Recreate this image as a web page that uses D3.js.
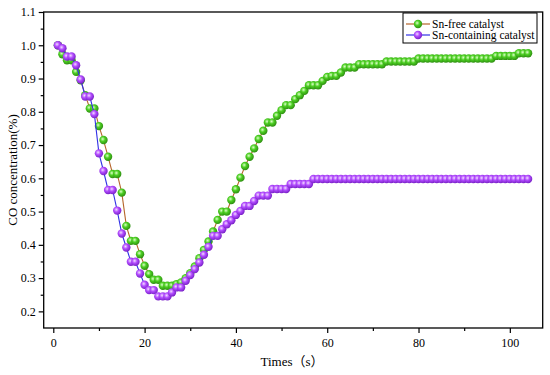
<!DOCTYPE html>
<html>
<head>
<meta charset="utf-8">
<script src="https://cdn.jsdelivr.net/npm/d3@7"></script>
<style>
  html, body { margin: 0; padding: 0; background: #fff; }
  svg { display: block; font-family: "Liberation Serif", "Times New Roman", "Noto Sans CJK SC", serif; }
</style>
</head>
<body>
<svg id="chart" width="550" height="375"></svg>
<script>
/* ---------- data ---------- */
const TIMES = d3.range(1, 105); // one reading per second, 1..104 s

const SN_FREE = [
  1.000, 0.973, 0.955, 0.955, 0.920, 0.895, 0.850, 0.810, 0.810, 0.757,
  0.715, 0.665, 0.613, 0.613, 0.557, 0.457, 0.412, 0.412, 0.372, 0.337,
  0.312, 0.295, 0.295, 0.277, 0.277, 0.277, 0.282, 0.287, 0.300, 0.315,
  0.335, 0.360, 0.385, 0.410, 0.440, 0.475, 0.500, 0.500, 0.535, 0.567,
  0.602, 0.637, 0.665, 0.690, 0.718, 0.743, 0.768, 0.768, 0.788, 0.805,
  0.820, 0.820, 0.838, 0.850, 0.863, 0.880, 0.880, 0.880, 0.893, 0.905,
  0.908, 0.908, 0.918, 0.933, 0.933, 0.933, 0.943, 0.943, 0.943, 0.943,
  0.943, 0.943, 0.951, 0.951, 0.951, 0.951, 0.951, 0.951, 0.951, 0.960,
  0.960, 0.960, 0.960, 0.960, 0.960, 0.960, 0.960, 0.960, 0.960, 0.960,
  0.960, 0.960, 0.960, 0.960, 0.960, 0.960, 0.968, 0.968, 0.968, 0.968,
  0.968, 0.976, 0.976, 0.976
];

const SN_CONTAINING = [
  1.000, 0.991, 0.966, 0.966, 0.940, 0.897, 0.846, 0.846, 0.793, 0.675,
  0.622, 0.565, 0.565, 0.503, 0.434, 0.392, 0.349, 0.349, 0.314, 0.280,
  0.264, 0.264, 0.245, 0.245, 0.245, 0.257, 0.272, 0.272, 0.292, 0.309,
  0.327, 0.347, 0.370, 0.394, 0.427, 0.427, 0.447, 0.462, 0.474, 0.490,
  0.502, 0.517, 0.517, 0.532, 0.548, 0.548, 0.548, 0.568, 0.568, 0.568,
  0.568, 0.583, 0.583, 0.583, 0.583, 0.583, 0.598, 0.598, 0.598, 0.598,
  0.598, 0.598, 0.598, 0.598, 0.598, 0.598, 0.598, 0.598, 0.598, 0.598,
  0.598, 0.598, 0.598, 0.598, 0.598, 0.598, 0.598, 0.598, 0.598, 0.598,
  0.598, 0.598, 0.598, 0.598, 0.598, 0.598, 0.598, 0.598, 0.598, 0.598,
  0.598, 0.598, 0.598, 0.598, 0.598, 0.598, 0.598, 0.598, 0.598, 0.598,
  0.598, 0.598, 0.598, 0.598
];

const X_MAJOR = [0, 20, 40, 60, 80, 100];
const X_MINOR = [10, 30, 50, 70, 90];
const Y_MAJOR = [0.2, 0.3, 0.4, 0.5, 0.6, 0.7, 0.8, 0.9, 1.0, 1.1];
const Y_MINOR = [0.25, 0.35, 0.45, 0.55, 0.65, 0.75, 0.85, 0.95, 1.05];

const SERIES = [
  { key: 'free', name: 'Sn-free catalyst',       values: SN_FREE,       line: '#b5652a', ball: '#4ccf22', hi: '#dcffc8', dark: '#2f8f12' },
  { key: 'sn',   name: 'Sn-containing catalyst', values: SN_CONTAINING, line: '#3030e6', ball: '#b34dff', hi: '#f3dcff', dark: '#7a22c8' },
];

/* ---------- layout ---------- */
const svg = d3.select('#chart');
const L = 43.7, R = 542.7, T = 12, B = 328;

const x = d3.scaleLinear().domain([-2.1, 107.2]).range([L, R]);
const y = d3.scaleLinear().domain([0.15, 1.1]).range([B, T]);

/* gradients for the ball markers */
const defs = svg.append('defs');
SERIES.forEach(s => {
  const g = defs.append('radialGradient').attr('id', 'ball-' + s.key)
    .attr('cx', '40%').attr('cy', '38%').attr('r', '62%');
  g.append('stop').attr('offset', '0%').attr('stop-color', s.hi);
  g.append('stop').attr('offset', '45%').attr('stop-color', s.ball);
  g.append('stop').attr('offset', '100%').attr('stop-color', s.dark);
});

/* ---------- axes ---------- */
const fmtY = d3.format('.1f');

svg.append('g').attr('transform', `translate(0,${B})`)
  .call(d3.axisBottom(x).tickValues(X_MAJOR).tickSize(5).tickPadding(5).tickFormat(d3.format('d')))
  .call(g => g.select('.domain').remove())
  .call(g => g.selectAll('.tick line').attr('stroke', '#000').attr('stroke-width', 1.2))
  .call(g => g.selectAll('.tick text').attr('font-size', '12px').attr('fill', '#000')
    .attr('font-family', '"Liberation Serif", "Times New Roman", serif'));

svg.append('g').attr('transform', `translate(0,${B})`)
  .call(d3.axisBottom(x).tickValues(X_MINOR).tickSize(3).tickFormat(''))
  .call(g => g.select('.domain').remove())
  .call(g => g.selectAll('.tick line').attr('stroke', '#000').attr('stroke-width', 1.2));

svg.append('g').attr('transform', `translate(${L},0)`)
  .call(d3.axisLeft(y).tickValues(Y_MAJOR).tickSize(5).tickPadding(3).tickFormat(fmtY))
  .call(g => g.select('.domain').remove())
  .call(g => g.selectAll('.tick line').attr('stroke', '#000').attr('stroke-width', 1.2))
  .call(g => g.selectAll('.tick text').attr('font-size', '12px').attr('fill', '#000')
    .attr('font-family', '"Liberation Serif", "Times New Roman", serif'));

svg.append('g').attr('transform', `translate(${L},0)`)
  .call(d3.axisLeft(y).tickValues(Y_MINOR).tickSize(3).tickFormat(''))
  .call(g => g.select('.domain').remove())
  .call(g => g.selectAll('.tick line').attr('stroke', '#000').attr('stroke-width', 1.2));

/* ---------- series ---------- */
const line = d3.line().x((d, i) => x(TIMES[i])).y(d => y(d));

SERIES.forEach(s => {
  const g = svg.append('g').attr('class', 'series-' + s.key);
  g.append('path').attr('d', line(s.values))
    .attr('fill', 'none').attr('stroke', s.line).attr('stroke-width', 1.1);
  g.selectAll('circle').data(s.values).join('circle')
    .attr('cx', (d, i) => x(TIMES[i])).attr('cy', d => y(d)).attr('r', 4.2)
    .attr('fill', `url(#ball-${s.key})`);
});

/* frame */
svg.append('rect').attr('x', L).attr('y', T).attr('width', R - L).attr('height', B - T)
  .attr('fill', 'none').attr('stroke', '#000').attr('stroke-width', 1.3);

/* ---------- axis titles ---------- */
svg.append('text').attr('x', 292).attr('y', 366).attr('text-anchor', 'middle')
  .attr('font-size', '13px').attr('fill', '#000').text('Times（s）');

svg.append('text').attr('transform', `translate(17,${(T + B) / 2}) rotate(-90)`)
  .attr('text-anchor', 'middle').attr('font-size', '13px').attr('fill', '#000')
  .text('CO concentration(%)');

/* ---------- legend ---------- */
const lg = svg.append('g').attr('transform', 'translate(403,13)');
lg.append('rect').attr('width', 134).attr('height', 30)
  .attr('fill', '#fff').attr('stroke', '#000').attr('stroke-width', 1);
SERIES.forEach((s, i) => {
  const yy = 11 + i * 11;
  lg.append('line').attr('x1', 3).attr('x2', 27).attr('y1', yy).attr('y2', yy)
    .attr('stroke', s.line).attr('stroke-width', 1.2);
  lg.append('circle').attr('cx', 15).attr('cy', yy).attr('r', 4.2).attr('fill', `url(#ball-${s.key})`);
  lg.append('text').attr('x', 29).attr('y', yy).attr('dy', '0.35em')
    .attr('font-size', '11.5px').attr('fill', '#000').text(s.name);
});
</script>
</body>
</html>
